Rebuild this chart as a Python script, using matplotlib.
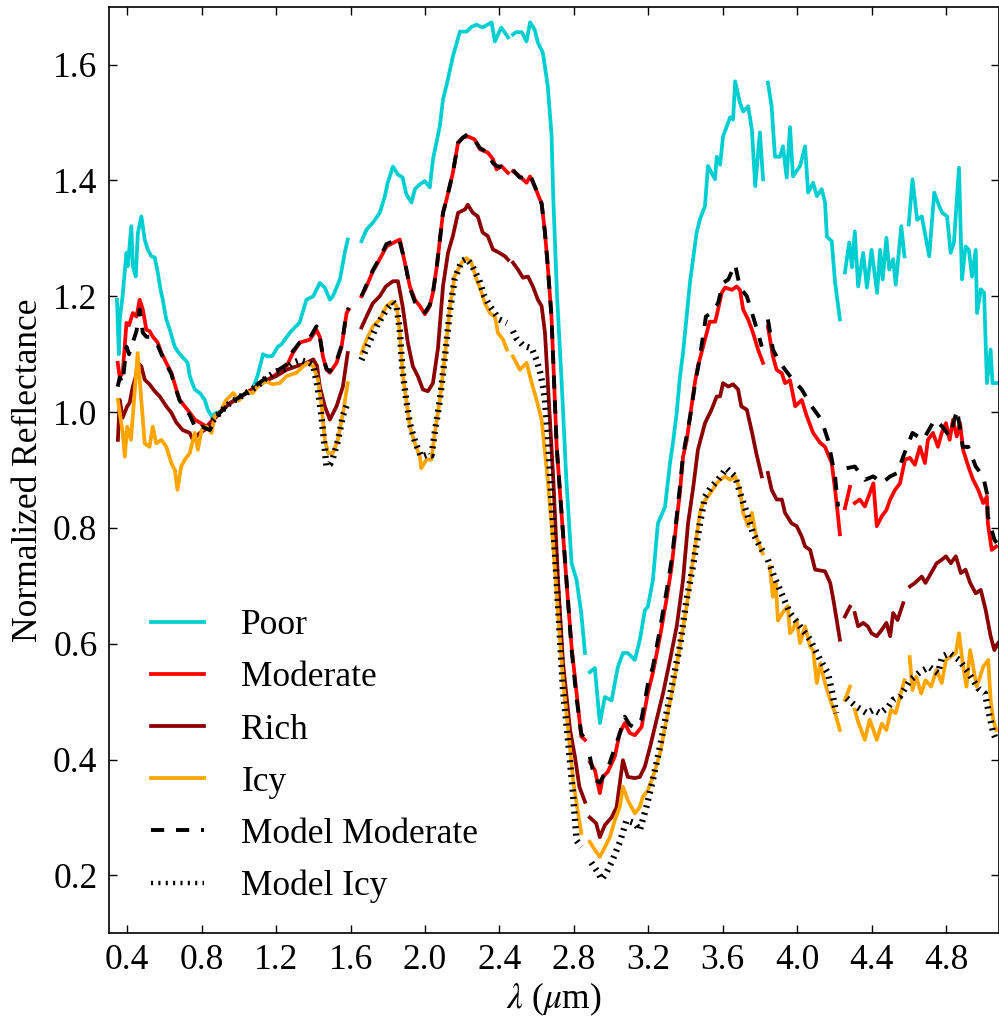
import numpy as np
import matplotlib
matplotlib.use("Agg")
import matplotlib.pyplot as plt
from matplotlib.ticker import MultipleLocator

plt.rcParams['font.family'] = 'serif'
plt.rcParams['font.serif'] = ['Liberation Serif', 'DejaVu Serif']
plt.rcParams['mathtext.fontset'] = 'stix'
plt.rcParams['lines.scale_dashes'] = False

G = (np.nan, np.nan)  # gap in the spectrum

# (wavelength um, normalized reflectance)
poor = [(0.345, 1.194), (0.355, 1.10), (0.36, 1.16), (0.375, 1.20), (0.396, 1.275), (0.403, 1.252),
        (0.422, 1.321), (0.43, 1.252), (0.446, 1.234), (0.457, 1.309), (0.476, 1.338), (0.494, 1.298),
        (0.51, 1.281), (0.53, 1.269), (0.548, 1.267), (0.564, 1.241), (0.579, 1.212), (0.591, 1.194),
        (0.61, 1.16), (0.629, 1.142), (0.655, 1.113), (0.682, 1.10), (0.709, 1.091), (0.725, 1.085),
        (0.736, 1.062), (0.763, 1.039), (0.79, 1.033), (0.817, 1.021), (0.833, 1.004), (0.853, 0.993),
        (0.88, 0.999), (0.9, 1.0), (0.95, 1.015), (1.0, 1.025), (1.04, 1.033), (1.067, 1.035),
        (1.10, 1.062), (1.13, 1.10), (1.155, 1.096), (1.18, 1.097), (1.21, 1.113), (1.229, 1.117),
        (1.274, 1.137), (1.327, 1.155), (1.363, 1.194), (1.40, 1.20), (1.435, 1.223), (1.462, 1.215),
        (1.489, 1.194), (1.505, 1.20), (1.543, 1.229), (1.569, 1.275), (1.585, 1.298), G,
        (1.659, 1.295), (1.686, 1.315), (1.72, 1.327), (1.757, 1.344), (1.784, 1.372), (1.80, 1.396),
        (1.828, 1.424), (1.855, 1.41), (1.88, 1.405), (1.90, 1.376), (1.928, 1.362), (1.946, 1.385),
        (1.972, 1.393), (1.999, 1.399), (2.026, 1.388), (2.043, 1.436), (2.08, 1.494), (2.097, 1.54),
        (2.124, 1.575), (2.15, 1.614), (2.188, 1.657), (2.224, 1.657), (2.25, 1.665), (2.277, 1.669),
        (2.31, 1.664), (2.358, 1.673), (2.376, 1.64), (2.41, 1.664), (2.447, 1.647), G,
        (2.473, 1.652), (2.49, 1.656), (2.52, 1.656), (2.546, 1.64), (2.565, 1.673), (2.59, 1.66),
        (2.607, 1.638), (2.634, 1.62), (2.66, 1.563), (2.68, 1.48), (2.69, 1.367), (2.71, 1.2),
        (2.734, 1.056), (2.76, 0.883), (2.788, 0.739), (2.815, 0.71), (2.84, 0.653), (2.86, 0.584), G,
        (2.886, 0.551), (2.913, 0.558), (2.94, 0.463), (2.967, 0.508), (3.003, 0.502), (3.037, 0.56),
        (3.064, 0.584), (3.09, 0.584), (3.128, 0.572), (3.155, 0.607), (3.182, 0.658), (3.198, 0.664),
        (3.225, 0.71), (3.252, 0.808), (3.29, 0.836), (3.317, 0.912), (3.333, 0.947), (3.353, 0.999),
        (3.37, 1.06), (3.387, 1.102), (3.424, 1.223), (3.46, 1.31), (3.478, 1.333), (3.505, 1.356),
        (3.521, 1.425), (3.559, 1.402), (3.568, 1.441), (3.586, 1.427), (3.602, 1.476), (3.64, 1.509),
        (3.656, 1.505), (3.667, 1.571), (3.693, 1.534), (3.71, 1.519), (3.737, 1.528), (3.757, 1.488),
        (3.775, 1.39), (3.80, 1.483), (3.817, 1.402), G,
        (3.843, 1.569), (3.863, 1.528), (3.881, 1.441), (3.908, 1.441), (3.924, 1.459), (3.944, 1.405),
        (3.962, 1.492), (3.978, 1.407), (4.016, 1.425), (4.043, 1.459), (4.059, 1.379), (4.086, 1.396),
        (4.106, 1.373), (4.132, 1.385), (4.15, 1.362), (4.16, 1.303), (4.186, 1.295), (4.204, 1.224),
        (4.23, 1.16), G,
        (4.257, 1.241), (4.28, 1.293), (4.295, 1.25), (4.31, 1.312), (4.328, 1.217), (4.355, 1.275),
        (4.375, 1.215), (4.40, 1.28), (4.43, 1.206), (4.446, 1.28), (4.46, 1.229), (4.48, 1.301),
        (4.495, 1.246), (4.516, 1.264), (4.53, 1.22), (4.56, 1.321), (4.577, 1.269), G,
        (4.60, 1.324), (4.62, 1.402), (4.645, 1.332), (4.67, 1.338), (4.71, 1.269), (4.737, 1.379),
        (4.763, 1.356), (4.78, 1.344), (4.806, 1.338), (4.825, 1.275), (4.843, 1.293), (4.87, 1.422),
        (4.886, 1.229), (4.905, 1.286), (4.923, 1.28), (4.94, 1.234), (4.96, 1.28), (4.967, 1.171),
        (4.987, 1.212), (5.005, 1.206), (5.02, 1.05), (5.04, 1.108), (5.05, 1.05), (5.08, 1.05)]

moderate = [(0.349, 1.085), (0.36, 1.06), (0.376, 1.068), (0.396, 1.154), (0.41, 1.15), (0.43, 1.171),
            (0.45, 1.165), (0.467, 1.194), (0.484, 1.177), (0.503, 1.142), (0.52, 1.14), (0.538, 1.13),
            (0.564, 1.12), (0.584, 1.102), (0.61, 1.085), (0.637, 1.068), (0.664, 1.039), (0.682, 1.021),
            (0.709, 1.01), (0.736, 0.999), (0.763, 0.987), (0.79, 0.982), (0.826, 0.975), (0.86, 0.987),
            (0.9, 1.0), (0.95, 1.015), (1.0, 1.025), (1.05, 1.035), (1.1, 1.045), (1.15, 1.055),
            (1.2, 1.065), (1.256, 1.079), (1.29, 1.102), (1.327, 1.12), (1.381, 1.125), (1.417, 1.142),
            (1.435, 1.13), (1.452, 1.096), (1.471, 1.073), (1.489, 1.068), (1.525, 1.085), (1.552, 1.113),
            (1.579, 1.171), (1.59, 1.177), G,
            (1.659, 1.2), (1.686, 1.217), (1.72, 1.243), (1.757, 1.264), (1.793, 1.286), (1.828, 1.292),
            (1.865, 1.298), (1.892, 1.258), (1.919, 1.217), (1.946, 1.194), (1.973, 1.183), (2.0, 1.169),
            (2.026, 1.183), (2.043, 1.206), (2.064, 1.252), (2.097, 1.344), (2.116, 1.367), (2.15, 1.413),
            (2.178, 1.465), (2.204, 1.474), (2.23, 1.476), (2.267, 1.471), (2.295, 1.454), (2.338, 1.448),
            (2.365, 1.437), (2.385, 1.419), (2.41, 1.425), (2.447, 1.413), G,
            (2.473, 1.416), (2.51, 1.407), (2.546, 1.396), (2.565, 1.407), (2.59, 1.39), (2.618, 1.367),
            (2.627, 1.361), (2.645, 1.31), (2.66, 1.252), (2.68, 1.165), (2.698, 1.021), (2.708, 0.94),
            (2.734, 0.826), (2.76, 0.71), (2.788, 0.595), (2.815, 0.515), (2.84, 0.44), (2.86, 0.434), G,
            (2.886, 0.396), (2.913, 0.382), (2.94, 0.342), (2.956, 0.37), (2.983, 0.379), (3.02, 0.405),
            (3.047, 0.446), (3.074, 0.463), (3.10, 0.446), (3.128, 0.442), (3.164, 0.456), (3.198, 0.515),
            (3.225, 0.55), (3.263, 0.612), (3.298, 0.676), (3.326, 0.733), (3.353, 0.814), (3.37, 0.86),
            (3.387, 0.923), (3.406, 0.95), (3.424, 0.99), (3.45, 1.05), (3.467, 1.079), (3.505, 1.125),
            (3.53, 1.156), (3.56, 1.156), (3.575, 1.177), (3.595, 1.206), (3.613, 1.215), (3.65, 1.211),
            (3.675, 1.217), (3.693, 1.211), (3.71, 1.177), (3.737, 1.16), (3.763, 1.137), (3.79, 1.108),
            (3.817, 1.085), G,
            (3.843, 1.148), (3.87, 1.096), (3.89, 1.073), (3.918, 1.067), (3.935, 1.05), (3.962, 1.055),
            (3.99, 1.01), (4.025, 1.021), (4.052, 0.993), (4.086, 0.964), (4.124, 0.947), (4.15, 0.94),
            (4.186, 0.912), (4.204, 0.866), (4.22, 0.82), (4.23, 0.789), G,
            (4.257, 0.834), (4.284, 0.871), G,
            (4.31, 0.843), (4.337, 0.849), (4.364, 0.837), (4.41, 0.877), (4.428, 0.803), (4.455, 0.82),
            (4.48, 0.831), (4.50, 0.849), (4.527, 0.866), (4.553, 0.877), (4.58, 0.918), (4.606, 0.921),
            (4.633, 0.909), (4.66, 0.94), (4.687, 0.912), (4.703, 0.952), (4.73, 0.964), (4.757, 0.94),
            (4.777, 0.964), (4.80, 0.981), (4.82, 0.952), (4.838, 0.987), (4.858, 0.958), (4.876, 0.981),
            (4.892, 0.935), (4.92, 0.906), (4.946, 0.883), (4.973, 0.866), (5.0, 0.843), (5.02, 0.854),
            (5.025, 0.808), (5.046, 0.762), (5.07, 0.768)]

rich = [(0.35, 0.952), (0.36, 1.021), (0.375, 0.99), (0.386, 0.999), (0.40, 1.01), (0.413, 1.016),
        (0.43, 1.044), (0.445, 1.06), (0.457, 1.085), (0.476, 1.079), (0.494, 1.056), (0.52, 1.048),
        (0.548, 1.036), (0.575, 1.027), (0.61, 1.01), (0.637, 0.999), (0.664, 0.982), (0.698, 0.969),
        (0.736, 0.964), (0.753, 0.952), (0.79, 0.964), (0.82, 0.97), (0.86, 0.985), (0.9, 1.0),
        (0.95, 1.015), (1.0, 1.025), (1.05, 1.035), (1.1, 1.045), (1.15, 1.055), (1.2, 1.062),
        (1.256, 1.073), (1.31, 1.079), (1.363, 1.085), (1.40, 1.091), (1.42, 1.08), (1.435, 1.044),
        (1.462, 1.01), (1.489, 0.987), (1.525, 1.01), (1.559, 1.044), (1.585, 1.102), G,
        (1.659, 1.146), (1.686, 1.165), (1.72, 1.188), (1.757, 1.2), (1.79, 1.217), (1.828, 1.226),
        (1.855, 1.226), (1.88, 1.183), (1.908, 1.12), (1.935, 1.079), (1.962, 1.062), (1.989, 1.039),
        (2.016, 1.036), (2.043, 1.05), (2.07, 1.11), (2.097, 1.217), (2.124, 1.275), (2.15, 1.304),
        (2.178, 1.344), (2.215, 1.35), (2.23, 1.358), (2.258, 1.344), (2.284, 1.338), (2.31, 1.31),
        (2.338, 1.304), (2.365, 1.281), (2.40, 1.275), (2.43, 1.269), (2.447, 1.263), G,
        (2.473, 1.258), (2.50, 1.246), (2.527, 1.232), (2.554, 1.234), (2.58, 1.217), (2.607, 1.194),
        (2.627, 1.183), (2.645, 1.137), (2.655, 1.08), (2.665, 1.02), (2.69, 0.883), (2.715, 0.71),
        (2.742, 0.567), (2.78, 0.451), (2.806, 0.405), (2.83, 0.353), (2.86, 0.327), G,
        (2.886, 0.30), (2.92, 0.29), (2.94, 0.266), (2.967, 0.287), (3.003, 0.30), (3.03, 0.318),
        (3.064, 0.399), (3.09, 0.37), (3.128, 0.368), (3.155, 0.37), (3.182, 0.388), (3.21, 0.422),
        (3.245, 0.469), (3.28, 0.515), (3.317, 0.572), (3.353, 0.63), (3.387, 0.71), (3.414, 0.808),
        (3.44, 0.866), (3.467, 0.935), (3.505, 0.981), (3.54, 1.004), (3.568, 1.027), (3.586, 1.027),
        (3.602, 1.05), (3.63, 1.044), (3.656, 1.048), (3.683, 1.039), (3.70, 1.01), (3.73, 1.004),
        (3.757, 0.966), (3.78, 0.93), (3.81, 0.889), G,
        (3.843, 0.895), (3.863, 0.866), (3.89, 0.849), (3.918, 0.849), (3.935, 0.826), (3.97, 0.808),
        (3.998, 0.803), (4.025, 0.785), (4.043, 0.768), (4.07, 0.762), (4.097, 0.728), (4.15, 0.725),
        (4.178, 0.705), (4.195, 0.676), (4.215, 0.636), (4.23, 0.607), G,
        (4.257, 0.647), (4.284, 0.664), G,
        (4.31, 0.653), (4.328, 0.63), (4.355, 0.636), (4.38, 0.63), (4.40, 0.618), (4.428, 0.613),
        (4.455, 0.624), (4.48, 0.636), (4.50, 0.613), (4.516, 0.653), (4.54, 0.641), (4.57, 0.67), G,
        (4.607, 0.699), (4.633, 0.705), (4.67, 0.716), (4.69, 0.705), (4.72, 0.722), (4.75, 0.739),
        (4.777, 0.745), (4.80, 0.751), (4.826, 0.739), (4.853, 0.751), (4.88, 0.722), (4.905, 0.728),
        (4.93, 0.705), (4.96, 0.687), (4.987, 0.693), (5.013, 0.659), (5.04, 0.613), (5.06, 0.589),
        (5.08, 0.601)]

icy = [(0.35, 1.021), (0.376, 0.964), (0.387, 0.923), (0.40, 0.975), (0.42, 0.952), (0.44, 1.033),
       (0.456, 1.102), (0.476, 1.021), (0.494, 0.946), (0.52, 0.94), (0.537, 0.975), (0.556, 0.946),
       (0.584, 0.952), (0.61, 0.94), (0.637, 0.912), (0.656, 0.90), (0.67, 0.866), (0.69, 0.906),
       (0.71, 0.918), (0.736, 0.929), (0.763, 0.964), (0.78, 0.935), (0.80, 0.969), (0.826, 0.975),
       (0.853, 0.964), (0.87, 0.993), (0.9, 1.0), (0.93, 1.02), (0.97, 1.033), (1.0, 1.02),
       (1.04, 1.035), (1.075, 1.033), (1.11, 1.048), (1.148, 1.053), (1.18, 1.048), (1.22, 1.05),
       (1.256, 1.062), (1.31, 1.068), (1.345, 1.079), (1.37, 1.085), (1.40, 1.079), (1.425, 1.056),
       (1.445, 1.01), (1.462, 0.952), (1.48, 0.929), (1.505, 0.929), (1.532, 0.952), (1.56, 0.999),
       (1.585, 1.05), G,
       (1.659, 1.102), (1.686, 1.125), (1.72, 1.148), (1.757, 1.16), (1.793, 1.183), (1.828, 1.191),
       (1.848, 1.183), (1.865, 1.137), (1.88, 1.068), (1.90, 1.021), (1.919, 0.975), (1.946, 0.946),
       (1.973, 0.923), (1.98, 0.903), (2.008, 0.918), (2.035, 0.918), (2.053, 0.964), (2.08, 1.021),
       (2.107, 1.096), (2.134, 1.18), (2.16, 1.235), (2.197, 1.258), (2.223, 1.266), (2.25, 1.258),
       (2.277, 1.229), (2.30, 1.211), (2.322, 1.188), (2.349, 1.171), (2.376, 1.165), (2.392, 1.137),
       (2.42, 1.125), (2.44, 1.108), G,
       (2.473, 1.096), (2.51, 1.073), (2.546, 1.085), (2.574, 1.05), (2.60, 1.021), (2.627, 0.987),
       (2.645, 0.93), (2.66, 0.883), (2.69, 0.768), (2.715, 0.653), (2.742, 0.537), (2.77, 0.451),
       (2.796, 0.365), (2.823, 0.307), (2.84, 0.273), G,
       (2.886, 0.258), (2.913, 0.244), (2.94, 0.232), (2.967, 0.249), (2.994, 0.266), (3.02, 0.295),
       (3.047, 0.318), (3.064, 0.353), (3.09, 0.33), (3.128, 0.307), (3.155, 0.318), (3.17, 0.335),
       (3.198, 0.347), (3.225, 0.37), (3.263, 0.41), (3.298, 0.469), (3.333, 0.525), (3.37, 0.595),
       (3.406, 0.664), (3.433, 0.727), (3.46, 0.785), (3.478, 0.826), (3.495, 0.843), (3.52, 0.854),
       (3.546, 0.866), (3.568, 0.877), (3.586, 0.883), (3.613, 0.889), (3.64, 0.883), (3.667, 0.889),
       (3.693, 0.866), (3.71, 0.826), (3.737, 0.803), (3.757, 0.826), (3.78, 0.785), (3.80, 0.768),
       (3.815, 0.756), G,
       (3.853, 0.733), (3.87, 0.681), (3.885, 0.705), (3.897, 0.64), (3.925, 0.655), (3.95, 0.665),
       (3.962, 0.618), (3.978, 0.625), (3.998, 0.641), (4.016, 0.601), (4.043, 0.63), (4.07, 0.595),
       (4.086, 0.589), (4.106, 0.532), (4.124, 0.566), (4.15, 0.532), (4.178, 0.503), (4.204, 0.48),
       (4.23, 0.451), G,
       (4.257, 0.503), (4.284, 0.526), G,
       (4.31, 0.486), (4.328, 0.465), (4.364, 0.434), (4.39, 0.469), (4.428, 0.434), (4.455, 0.462),
       (4.48, 0.451), (4.505, 0.486), (4.53, 0.48), (4.557, 0.514), (4.577, 0.537), G,
       (4.605, 0.577), (4.62, 0.52), (4.64, 0.543), (4.667, 0.514), (4.69, 0.537), (4.72, 0.526),
       (4.75, 0.555), (4.777, 0.532), (4.80, 0.572), (4.826, 0.578), (4.853, 0.584), (4.87, 0.618),
       (4.89, 0.566), (4.91, 0.526), (4.93, 0.589), (4.946, 0.56), (4.965, 0.526), (4.983, 0.543),
       (5.0, 0.56), (5.027, 0.572), (5.04, 0.503), (5.054, 0.469), (5.07, 0.451)]

model_moderate = [(0.349, 1.044), (0.36, 1.06), (0.375, 1.05), (0.396, 1.113), (0.41, 1.10),
                  (0.43, 1.12), (0.45, 1.14), (0.467, 1.177), (0.484, 1.137), (0.503, 1.13),
                  (0.52, 1.13), (0.54, 1.12), (0.564, 1.115), (0.584, 1.10), (0.61, 1.083),
                  (0.637, 1.066), (0.664, 1.037), (0.682, 1.02), (0.709, 1.008), (0.736, 0.995),
                  (0.772, 0.969), (0.80, 0.975), (0.844, 0.969), (0.87, 0.985), (0.9, 1.0),
                  (0.95, 1.015), (1.0, 1.025), (1.05, 1.035), (1.1, 1.048), (1.15, 1.06), (1.2, 1.07),
                  (1.256, 1.082), (1.29, 1.105), (1.327, 1.12), (1.381, 1.128), (1.417, 1.148),
                  (1.435, 1.13), (1.452, 1.096), (1.471, 1.075), (1.489, 1.07), (1.525, 1.088),
                  (1.552, 1.115), (1.579, 1.172), (1.59, 1.18), G,
                  (1.659, 1.2), (1.686, 1.22), (1.72, 1.245), (1.757, 1.266), (1.793, 1.29),
                  (1.828, 1.295), (1.86, 1.30), (1.892, 1.26), (1.919, 1.215), (1.946, 1.19),
                  (1.973, 1.18), (2.0, 1.172), (2.026, 1.185), (2.043, 1.206), (2.064, 1.252),
                  (2.097, 1.344), (2.116, 1.367), (2.15, 1.413), (2.178, 1.465), (2.204, 1.474),
                  (2.23, 1.48), (2.267, 1.47), (2.295, 1.456), (2.338, 1.448), (2.365, 1.43),
                  (2.385, 1.425), (2.41, 1.423), (2.447, 1.415), G,
                  (2.473, 1.418), (2.51, 1.405), (2.546, 1.405), (2.565, 1.41), (2.59, 1.39),
                  (2.618, 1.367), (2.627, 1.36), (2.645, 1.31), (2.66, 1.252), (2.68, 1.165),
                  (2.698, 1.021), (2.708, 0.94), (2.734, 0.826), (2.76, 0.71), (2.788, 0.59),
                  (2.815, 0.505), (2.84, 0.445), (2.86, 0.435), G,
                  (2.886, 0.405), (2.913, 0.365), (2.94, 0.36), (2.956, 0.37), (2.983, 0.385),
                  (3.02, 0.42), (3.047, 0.445), (3.074, 0.474), (3.10, 0.46), (3.128, 0.455),
                  (3.164, 0.47), (3.198, 0.53), (3.225, 0.56), (3.263, 0.625), (3.298, 0.69),
                  (3.326, 0.745), (3.353, 0.82), (3.37, 0.87), (3.387, 0.925), (3.424, 0.99),
                  (3.45, 1.045), (3.478, 1.096), (3.51, 1.165), (3.546, 1.173), (3.575, 1.188),
                  (3.602, 1.223), (3.63, 1.229), (3.667, 1.255), (3.693, 1.215), (3.73, 1.20),
                  (3.763, 1.165), (3.79, 1.137), (3.81, 1.113), G,
                  (3.843, 1.16), (3.87, 1.108), (3.908, 1.085), (3.962, 1.062), (4.025, 1.039),
                  (4.078, 1.01), (4.13, 0.987), (4.166, 0.952), (4.204, 0.889), (4.22, 0.837), G,
                  (4.266, 0.903), (4.31, 0.906), (4.364, 0.883), (4.41, 0.889), (4.455, 0.877),
                  (4.50, 0.889), (4.54, 0.895), (4.57, 0.923), (4.62, 0.964), (4.677, 0.952),
                  (4.74, 0.987), (4.78, 0.975), (4.82, 0.958), (4.86, 1.004), (4.89, 0.94),
                  (4.92, 0.94), (4.96, 0.906), (5.0, 0.889), (5.02, 0.86), (5.025, 0.82),
                  (5.06, 0.78), (5.08, 0.77)]

model_icy = [(0.86, 0.985), (0.9, 1.0), (0.95, 1.015), (1.0, 1.025), (1.05, 1.035), (1.1, 1.045),
             (1.15, 1.06), (1.2, 1.07), (1.25, 1.075), (1.29, 1.085), (1.33, 1.09), (1.38, 1.085),
             (1.40, 1.08), (1.425, 1.04), (1.445, 0.99), (1.462, 0.935), (1.471, 0.906), (1.49, 0.91),
             (1.505, 0.92), (1.532, 0.95), (1.56, 0.995), (1.585, 1.016), G,
             (1.659, 1.09), (1.686, 1.11), (1.74, 1.148), (1.793, 1.177), (1.828, 1.19), (1.848, 1.183),
             (1.865, 1.14), (1.88, 1.07), (1.90, 1.02), (1.919, 0.98), (1.946, 0.95), (1.98, 0.923),
             (2.008, 0.926), (2.035, 0.925), (2.053, 0.965), (2.08, 1.02), (2.107, 1.095), (2.134, 1.175),
             (2.16, 1.23), (2.197, 1.26), (2.223, 1.265), (2.25, 1.255), (2.29, 1.229), (2.32, 1.20),
             (2.349, 1.183), (2.40, 1.16), (2.44, 1.154), G,
             (2.473, 1.14), (2.49, 1.128), (2.527, 1.115), (2.574, 1.11), (2.60, 1.09), (2.618, 1.07),
             (2.634, 1.045), (2.645, 1.021), (2.66, 0.964), (2.67, 0.906), (2.68, 0.849), (2.70, 0.75),
             (2.72, 0.64), (2.742, 0.52), (2.77, 0.43), (2.796, 0.34), (2.815, 0.26), (2.84, 0.249), G,
             (2.894, 0.222), (2.93, 0.205), (2.95, 0.193), (2.976, 0.205), (3.01, 0.228), (3.047, 0.257),
             (3.083, 0.295), (3.128, 0.29), (3.155, 0.278), (3.19, 0.318), (3.225, 0.365), (3.263, 0.422),
             (3.298, 0.48), (3.333, 0.537), (3.37, 0.595), (3.406, 0.676), (3.44, 0.733), (3.478, 0.808),
             (3.505, 0.854), (3.54, 0.871), (3.575, 0.883), (3.62, 0.903), (3.667, 0.889), (3.70, 0.854),
             (3.73, 0.826), (3.763, 0.791), (3.80, 0.768), (3.815, 0.76), G,
             (3.843, 0.745), (3.878, 0.715), (3.908, 0.693), (3.962, 0.653), (4.016, 0.63), (4.07, 0.607),
             (4.124, 0.572), (4.166, 0.549), (4.19, 0.514), (4.21, 0.48), G,
             (4.266, 0.506), (4.32, 0.491), (4.375, 0.48), (4.41, 0.486), (4.446, 0.48), (4.49, 0.491),
             (4.516, 0.503), (4.553, 0.509), (4.607, 0.537), (4.66, 0.551), (4.71, 0.56), (4.757, 0.549),
             (4.78, 0.578), (4.82, 0.584), (4.87, 0.572), (4.91, 0.555), (4.946, 0.537), (4.973, 0.523),
             (5.01, 0.514), (5.027, 0.486), (5.054, 0.446), (5.07, 0.434)]

labels = ['Poor', 'Moderate', 'Rich', 'Icy', 'Model Moderate', 'Model Icy']
colors = ['darkturquoise', 'red', 'darkred', 'orange']

FS = 25.5
W, H = 999, 1023
fig = plt.figure(figsize=(W / 100, H / 100), dpi=100)
ax = fig.add_axes([108.6 / W, (H - 933.3) / H, (W - 108.6) / W, (933.3 - 6.7) / H])

for data, c, lab in zip([poor, moderate, rich, icy], colors, labels[:4]):
    x, y = np.array(data).T
    ax.plot(x, y, color=c, lw=2.7, label=lab)

x, y = np.array(model_moderate).T
ax.plot(x, y, color='k', lw=2.8, linestyle=(0, (9.5, 8.5)), label=labels[4])
x, y = np.array(model_icy).T
ax.plot(x, y, color='k', lw=4.6, linestyle=(0, (1.5, 3.8)), label=labels[5])

ax.set_xlim(0.3, 5.085)
ax.set_ylim(0.1, 1.7)
ax.xaxis.set_major_locator(MultipleLocator(0.4))
ax.yaxis.set_major_locator(MultipleLocator(0.2))
ax.tick_params(which='both', direction='in', top=True, right=True, length=6, width=1,
               labelsize=FS, pad=8)
for s in ax.spines.values():
    s.set_linewidth(1.2)

ax.set_xlabel(r'$\lambda$ ($\mu$m)', fontsize=FS, labelpad=2)
ax.set_ylabel('Normalized Reflectance', fontsize=FS, labelpad=6)

leg = ax.legend(loc='center left', bbox_to_anchor=(0.0476, 0.191), frameon=False,
                fontsize=FS, handlelength=1.5, handletextpad=1.05, labelspacing=0.54,
                borderpad=0, borderaxespad=0)
leg.get_lines()[5].set_linewidth(3.2)

fig.savefig('out.png', dpi=100)
